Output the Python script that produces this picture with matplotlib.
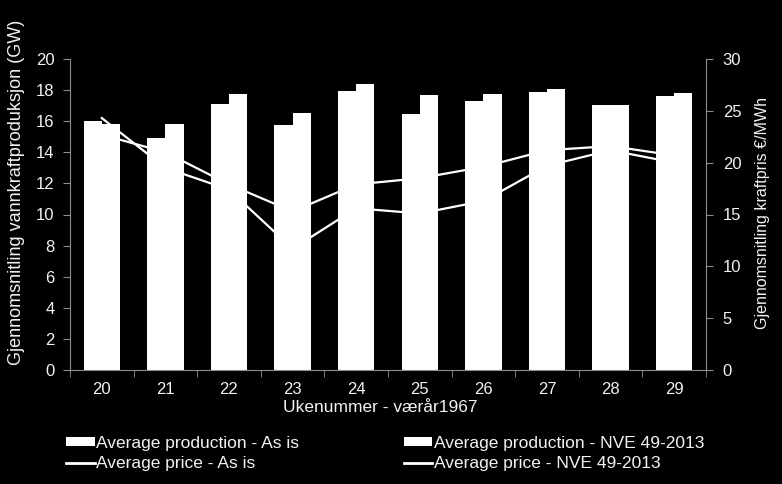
import numpy as np
import matplotlib
matplotlib.use('Agg')
import matplotlib.pyplot as plt
from matplotlib.patches import Patch
from matplotlib.lines import Line2D

weeks = ['20', '21', '22', '23', '24', '25', '26', '27', '28', '29']
prod_as_is = [16.0, 14.9, 17.1, 15.75, 17.95, 16.45, 17.3, 17.85, 17.05, 17.65]
prod_nve = [15.85, 15.8, 17.75, 16.55, 18.4, 17.7, 17.75, 18.1, 17.05, 17.8]
price_as_is = [22.7, 21.0, 17.9, 15.3, 17.9, 18.5, 19.6, 21.2, 21.6, 20.7]
price_nve = [24.3, 19.5, 17.4, 11.7, 15.6, 15.1, 16.3, 19.7, 21.2, 20.0]

plt.rcParams['font.family'] = ['Liberation Sans', 'DejaVu Sans']
fg = '#f2f2f2'
spine = '#8c8c8c'
W, H = 782, 484

fig = plt.figure(figsize=(W/100, H/100), dpi=100, facecolor='black')
ax = fig.add_axes([70/W, 114/H, 636/W, 311/H])
ax2 = ax.twinx()

x = np.arange(len(weeks))
w = 0.285
ax.bar(x - w/2, prod_as_is, w, color='white', linewidth=0)
ax.bar(x + w/2, prod_nve, w, color='white', linewidth=0)
ax2.plot(x, price_as_is, color='white', lw=1.6)
ax2.plot(x, price_nve, color='white', lw=1.6)

# bars drawn over the price lines
ax.set_zorder(ax2.get_zorder() + 1)
ax.patch.set_visible(False)
ax2.patch.set_facecolor('black')

ax.set_xlim(-0.5, len(weeks) - 0.5)
ax.set_ylim(0, 20)
ax2.set_ylim(0, 30)
ax.set_yticks(range(0, 21, 2))
ax2.set_yticks(range(0, 31, 5))
ax.set_xticks(x)
ax.set_xticklabels(weeks)
ax.set_xticks(np.arange(-0.5, len(weeks)), minor=True)

for a in (ax, ax2):
    for s in a.spines.values():
        s.set_visible(False)
ax.spines['left'].set_visible(True)
ax.spines['bottom'].set_visible(True)
ax2.spines['right'].set_visible(True)
for s in (ax.spines['left'], ax.spines['bottom'], ax2.spines['right']):
    s.set_color(spine)

ax.tick_params(axis='x', which='major', length=0, pad=9, colors=fg, labelsize=12)
ax.tick_params(axis='x', which='minor', length=5, color=spine)
ax.tick_params(axis='y', length=5, pad=6, color=spine, labelcolor=fg, labelsize=12)
ax2.tick_params(axis='y', length=5, pad=7, color=spine, labelcolor=fg, labelsize=12)

fig.text(17/W, 1 - 192/H, 'Gjennomsnitling vannkraftproduksjon (GW)', color=fg,
         fontsize=13, rotation=90, ha='center', va='center')
fig.text(762/W, 1 - 213/H, 'Gjennomsnitling kraftpris €/MWh', color=fg,
         fontsize=11.5, rotation=90, ha='center', va='center')
fig.text(380/W, 1 - 407/H, 'Ukenummer - værår1967', color=fg,
         fontsize=12.5, ha='center', va='center')

handles = [Patch(facecolor='white'), Line2D([], [], color='white', lw=2),
           Patch(facecolor='white'), Line2D([], [], color='white', lw=2)]
labels = ['Average production - As is', 'Average price - As is',
          'Average production - NVE 49-2013', 'Average price - NVE 49-2013']
leg = fig.legend(handles, labels, ncol=2, loc='upper left',
                 bbox_to_anchor=(66/W, 1 - 436/H), frameon=False,
                 borderpad=0, borderaxespad=0,
                 handlelength=1.65, handleheight=0.45, handletextpad=0.1,
                 columnspacing=6.0, labelspacing=0.3, fontsize=12.5)
for t in leg.get_texts():
    t.set_color(fg)

fig.savefig('out.png', dpi=100, facecolor='black')
